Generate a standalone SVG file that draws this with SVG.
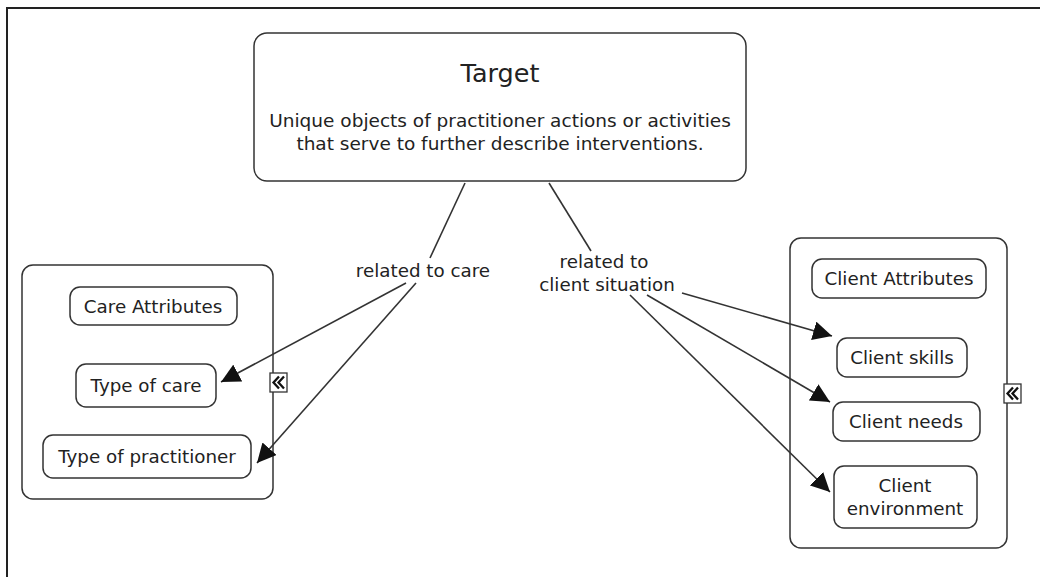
<svg xmlns="http://www.w3.org/2000/svg" width="1040" height="577" viewBox="0 0 1040 577">
<style>
text{font-family:"DejaVu Sans","Liberation Sans",sans-serif;fill:#222;text-anchor:middle}
.box{fill:#fff;stroke:#333;stroke-width:1.5}
.lbl{font-size:18.3px}
.con{stroke:#333;stroke-width:1.6;fill:none}
.ico{fill:#fff;stroke:#333;stroke-width:1.3}
.chev{fill:none;stroke:#111;stroke-width:2.3}
</style>
<defs>
<marker id="ah" viewBox="0 0 10 10" refX="10" refY="5" markerWidth="19" markerHeight="19" markerUnits="userSpaceOnUse" orient="auto">
<path d="M0,0 L10,5 L0,10 z" fill="#111"/>
</marker>
<g id="collapse">
<rect class="ico" x="0" y="0" width="17" height="19"/>
<path class="chev" d="M9,3.5 L3.5,9.5 L9,15.5 M14,3.5 L8.5,9.5 L14,15.5"/>
</g>
</defs>
<rect x="0" y="0" width="1040" height="577" fill="#fff"/>
<path d="M7,577 V8 H1040" fill="none" stroke="#222" stroke-width="2"/>
<g id="target">
<rect class="box" x="254" y="33" width="492" height="148" rx="13"/>
<text x="500" y="82" font-size="25.5">Target</text>
<text x="500" y="127" font-size="18.5">Unique objects of practitioner actions or activities</text>
<text x="500" y="150" font-size="18.5">that serve to further describe interventions.</text>
</g>
<g id="care-group">
<rect class="box" x="22" y="265" width="251" height="234" rx="11"/>
<use href="#collapse" x="270" y="373"/>
</g>
<g id="care-attributes">
<rect class="box" x="70" y="287" width="167" height="38" rx="10"/>
<text class="lbl" x="153" y="313">Care Attributes</text>
</g>
<g id="type-of-care">
<rect class="box" x="76" y="364" width="140" height="43" rx="10"/>
<text class="lbl" x="146" y="392">Type of care</text>
</g>
<g id="type-of-practitioner">
<rect class="box" x="43" y="435" width="208" height="43" rx="10"/>
<text class="lbl" x="147" y="463">Type of practitioner</text>
</g>
<g id="client-group">
<rect class="box" x="790" y="238" width="217" height="310" rx="11"/>
<use href="#collapse" x="1004" y="384"/>
</g>
<g id="client-attributes">
<rect class="box" x="812" y="259" width="174" height="39" rx="10"/>
<text class="lbl" x="899" y="285">Client Attributes</text>
</g>
<g id="client-skills">
<rect class="box" x="837" y="338" width="130" height="39" rx="10"/>
<text class="lbl" x="902" y="364">Client skills</text>
</g>
<g id="client-needs">
<rect class="box" x="833" y="402" width="147" height="39" rx="10"/>
<text class="lbl" x="906" y="428">Client needs</text>
</g>
<g id="client-environment">
<rect class="box" x="834" y="466" width="143" height="62" rx="10"/>
<text class="lbl" x="905" y="492">Client</text>
<text class="lbl" x="905" y="515">environment</text>
</g>
<g id="connectors">
<line class="con" x1="465" y1="183" x2="430" y2="258"/>
<line class="con" x1="549" y1="183" x2="591" y2="251"/>
<line class="con" x1="406" y1="283" x2="221" y2="382" marker-end="url(#ah)"/>
<line class="con" x1="416" y1="283" x2="257" y2="463" marker-end="url(#ah)"/>
<line class="con" x1="682" y1="293" x2="832" y2="336" marker-end="url(#ah)"/>
<line class="con" x1="647" y1="295" x2="830" y2="402" marker-end="url(#ah)"/>
<line class="con" x1="630" y1="295" x2="830" y2="492" marker-end="url(#ah)"/>
<text class="lbl" x="423" y="277">related to care</text>
<text class="lbl" x="604" y="268">related to</text>
<text class="lbl" x="607" y="291">client situation</text>
</g>
</svg>
